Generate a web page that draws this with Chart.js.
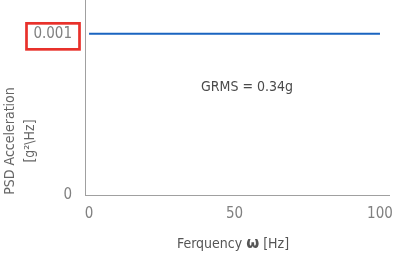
<!DOCTYPE html>
<html>
<head>
<meta charset="utf-8">
<script src="https://cdn.jsdelivr.net/npm/chart.js@4/dist/chart.umd.min.js"></script>
<style>
	html, body { margin: 0; padding: 0; background: #fff; }
	#wrap { width: 393px; height: 257px; }
</style>
</head>
<body>
<div id="wrap"><canvas id="c"></canvas></div>
<script>
var freqs = [0, 100];
var psd = [0.001, 0.001];
var xTicks = [0, 50, 100];
var yTicks = [0, 0.001];
var yTickLabels = ['0', '0.001'];
var grmsText = 'GRMS = 0.34g';
var yTitle = ['PSD Acceleration', '[g\u00b2\\Hz]'];
var xTitle = ['Ferquency ', '\u03c9', ' [Hz]'];

var fontFam = '"DejaVu Sans Condensed", "Liberation Sans Narrow", sans-serif';

var extras = {
	id: 'extras',
	afterDraw: function(chart) {
		var ctx = chart.ctx;
		var y = chart.scales.y;
		ctx.save();
		// red box round the top tick label
		var py = y.getPixelForValue(yTicks[1]);
		ctx.strokeStyle = '#e8312b';
		ctx.lineWidth = 2.7;
		ctx.strokeRect(26.5, py - 10.5, 53, 26);

		// annotation
		ctx.fillStyle = '#4a4a4a';
		ctx.font = '14px ' + fontFam;
		ctx.textAlign = 'center';
		ctx.textBaseline = 'middle';
		ctx.fillText(grmsText, 247, 87);

		// y title
		ctx.fillStyle = '#666';
		ctx.font = '14px ' + fontFam;
		ctx.translate(0, 141);
		ctx.rotate(-Math.PI / 2);
		ctx.fillText(yTitle[0], 0, 10);
		ctx.fillText(yTitle[1], 0, 30);
		ctx.restore();

		// x title, omega in bold
		ctx.save();
		ctx.textBaseline = 'middle';
		ctx.fillStyle = '#555';
		var fonts = ['14px ' + fontFam, 'bold 15px "DejaVu Sans", sans-serif', '14px ' + fontFam];
		var w = 0;
		for (var i = 0; i < xTitle.length; i++) {
			ctx.font = fonts[i];
			w += ctx.measureText(xTitle[i]).width;
		}
		var x = 233 - w / 2;
		for (var i = 0; i < xTitle.length; i++) {
			ctx.font = fonts[i];
			ctx.fillText(xTitle[i], x, 244);
			x += ctx.measureText(xTitle[i]).width;
		}
		ctx.restore();
	}
};

new Chart(document.getElementById('c'), {
	type: 'line',
	data: {
		datasets: [{
			data: freqs.map(function(f, i) { return {x: f, y: psd[i]}; }),
			borderColor: '#1a64c0',
			borderWidth: 2,
			pointRadius: 0,
			fill: false
		}]
	},
	options: {
		responsive: true,
		maintainAspectRatio: false,
		animation: false,
		layout: { padding: { top: 0, right: 4, left: 0, bottom: 0 } },
		plugins: {
			legend: { display: false },
			tooltip: { enabled: false }
		},
		scales: {
			x: {
				type: 'linear',
				min: -1.4,
				max: 103.1,
				afterBuildTicks: function(axis) {
					axis.ticks = xTicks.map(function(v) { return {value: v}; });
				},
				afterFit: function(axis) {
					axis.height = 62;
					axis.paddingLeft = 0;
					axis.paddingRight = 0;
				},
				grid: { display: false, drawTicks: false },
				border: { color: '#a0a0a0', width: 1 },
				ticks: {
					padding: 10,
					color: '#808080',
					font: { family: fontFam, size: 15 },
					maxRotation: 0
				}
			},
			y: {
				min: 0,
				max: 0.00121,
				afterBuildTicks: function(axis) {
					axis.ticks = yTicks.map(function(v) { return {value: v}; });
				},
				afterFit: function(axis) {
					axis.width = 85;
					axis.paddingTop = 0;
					axis.paddingBottom = 0;
				},
				grid: { display: false, drawTicks: false },
				border: { color: '#a0a0a0', width: 1 },
				ticks: {
					padding: 13,
					color: '#808080',
					font: { family: fontFam, size: 15 },
					callback: function(v) {
						var i = yTicks.indexOf(v);
						return i >= 0 ? yTickLabels[i] : '';
					}
				}
			}
		}
	},
	plugins: [extras]
});
</script>
</body>
</html>
